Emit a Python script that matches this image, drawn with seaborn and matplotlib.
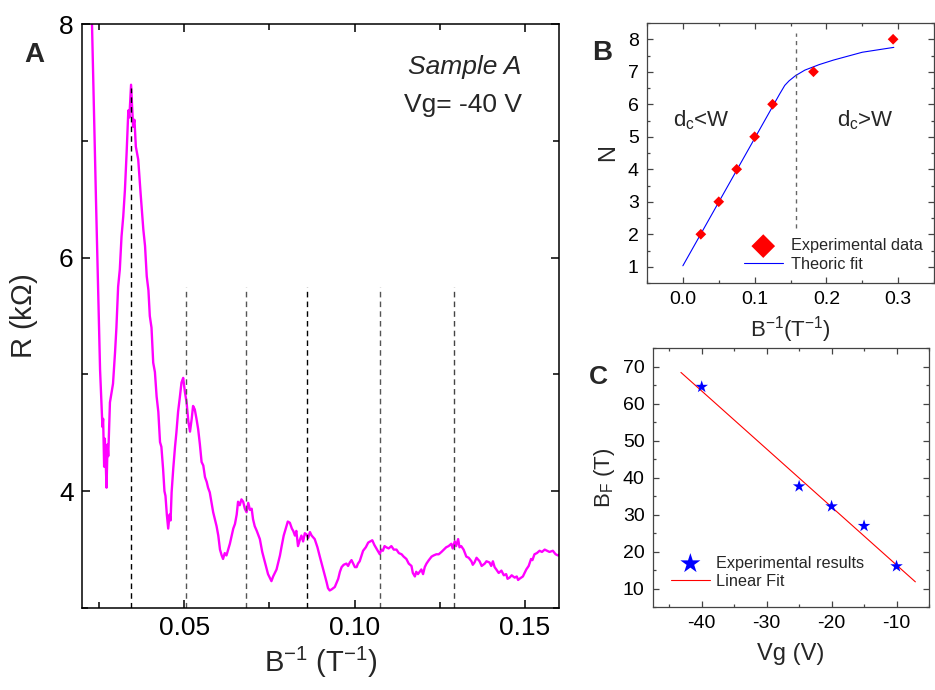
import numpy as np
import pandas as pd
import matplotlib
matplotlib.use("Agg")
import matplotlib.pyplot as plt
import seaborn as sns
from matplotlib.ticker import MultipleLocator

sns.set_theme(style="ticks")
plt.rcParams["font.family"] = ["Liberation Sans", "DejaVu Sans"]
plt.rcParams["mathtext.default"] = "regular"

# ---- panel A : magnetoresistance vs 1/B (sample A, Vg = -40 V)
inv_b = [0.0227, 0.0241, 0.0253, 0.0260, 0.0262, 0.0265, 0.0267, 0.0269, 0.0272, 0.0275,
         0.0277, 0.0282, 0.0287, 0.0291, 0.0297, 0.0301, 0.0306, 0.0311, 0.0316, 0.0321,
         0.0326, 0.0331, 0.0336, 0.0339, 0.0344, 0.0347, 0.0350, 0.0354, 0.0358, 0.0365,
         0.0372, 0.0380, 0.0385, 0.0390, 0.0395, 0.0399, 0.0404, 0.0409, 0.0414, 0.0419,
         0.0424, 0.0429, 0.0433, 0.0438, 0.0442, 0.0445, 0.0449, 0.0453, 0.0457, 0.0460,
         0.0463, 0.0468, 0.0473, 0.0477, 0.0482, 0.0487, 0.0492, 0.0497, 0.0502, 0.0507,
         0.0512, 0.0517, 0.0522, 0.0526, 0.0531, 0.0536, 0.0541, 0.0546, 0.0551, 0.0556,
         0.0561, 0.0566, 0.0570, 0.0575, 0.0585, 0.0595, 0.0600, 0.0605, 0.0610, 0.0614,
         0.0619, 0.0624, 0.0629, 0.0634, 0.0644, 0.0649, 0.0654, 0.0658, 0.0663, 0.0668,
         0.0673, 0.0678, 0.0683, 0.0688, 0.0693, 0.0698, 0.0702, 0.0707, 0.0713, 0.0722,
         0.0729, 0.0737, 0.0746, 0.0751, 0.0756, 0.0761, 0.0771, 0.0781, 0.0786, 0.0792,
         0.0800, 0.0804, 0.0810, 0.0816, 0.0820, 0.0825, 0.0829, 0.0834, 0.0839, 0.0844,
         0.0849, 0.0854, 0.0859, 0.0864, 0.0869, 0.0874, 0.0883, 0.0891, 0.0898, 0.0908,
         0.0918, 0.0922, 0.0927, 0.0933, 0.0942, 0.0952, 0.0957, 0.0962, 0.0968, 0.0976,
         0.0981, 0.0986, 0.0991, 0.0996, 0.1001, 0.1006, 0.1010, 0.1015, 0.1025, 0.1033,
         0.1040, 0.1046, 0.1052, 0.1058, 0.1062, 0.1068, 0.1074, 0.1078, 0.1083, 0.1088,
         0.1093, 0.1100, 0.1108, 0.1115, 0.1123, 0.1130, 0.1138, 0.1144, 0.1152, 0.1159,
         0.1167, 0.1171, 0.1177, 0.1181, 0.1186, 0.1191, 0.1196, 0.1201, 0.1206, 0.1211,
         0.1218, 0.1226, 0.1232, 0.1240, 0.1247, 0.1255, 0.1262, 0.1269, 0.1276, 0.1284,
         0.1288, 0.1294, 0.1298, 0.1304, 0.1308, 0.1313, 0.1320, 0.1328, 0.1335, 0.1343,
         0.1347, 0.1352, 0.1358, 0.1367, 0.1373, 0.1382, 0.1387, 0.1396, 0.1401, 0.1406,
         0.1411, 0.1416, 0.1423, 0.1431, 0.1438, 0.1445, 0.1449, 0.1455, 0.1461, 0.1470,
         0.1476, 0.1480, 0.1484, 0.1494, 0.1504, 0.1511, 0.1518, 0.1522, 0.1528, 0.1535,
         0.1543, 0.1550, 0.1558, 0.1565, 0.1572, 0.1582, 0.1590, 0.1597, 0.1602]
r_kohm = [8.30, 6.50, 5.04, 4.55, 4.62, 4.21, 4.45, 4.30, 4.03, 4.40,
          4.30, 4.76, 4.85, 4.92, 5.19, 5.40, 5.75, 5.90, 6.18, 6.35,
          6.58, 6.90, 7.26, 7.20, 7.48, 7.30, 7.12, 7.18, 6.95, 6.84,
          6.55, 6.24, 6.10, 5.84, 5.72, 5.50, 5.40, 5.10, 5.02, 4.81,
          4.68, 4.42, 4.38, 4.19, 4.00, 3.96, 3.80, 3.68, 3.80, 3.75,
          3.99, 4.20, 4.38, 4.50, 4.68, 4.80, 4.93, 4.97, 4.85, 4.76,
          4.60, 4.51, 4.62, 4.73, 4.70, 4.62, 4.53, 4.40, 4.25, 4.22,
          4.12, 4.08, 4.03, 3.99, 3.82, 3.70, 3.62, 3.50, 3.45, 3.42,
          3.47, 3.45, 3.50, 3.55, 3.68, 3.72, 3.80, 3.91, 3.88, 3.93,
          3.91, 3.85, 3.82, 3.90, 3.84, 3.85, 3.76, 3.70, 3.66, 3.59,
          3.48, 3.39, 3.29, 3.26, 3.23, 3.27, 3.33, 3.45, 3.53, 3.62,
          3.70, 3.74, 3.73, 3.68, 3.66, 3.62, 3.66, 3.53, 3.58, 3.62,
          3.57, 3.64, 3.63, 3.60, 3.65, 3.62, 3.59, 3.52, 3.44, 3.33,
          3.22, 3.17, 3.15, 3.16, 3.18, 3.25, 3.31, 3.35, 3.37, 3.38,
          3.36, 3.39, 3.41, 3.38, 3.35, 3.35, 3.38, 3.40, 3.49, 3.52,
          3.56, 3.57, 3.58, 3.54, 3.52, 3.49, 3.46, 3.50, 3.49, 3.53,
          3.52, 3.51, 3.53, 3.50, 3.50, 3.47, 3.46, 3.44, 3.42, 3.38,
          3.36, 3.30, 3.27, 3.31, 3.29, 3.31, 3.33, 3.29, 3.35, 3.38,
          3.41, 3.44, 3.45, 3.46, 3.46, 3.48, 3.50, 3.52, 3.53, 3.55,
          3.51, 3.57, 3.53, 3.59, 3.52, 3.53, 3.50, 3.44, 3.43, 3.40,
          3.37, 3.39, 3.43, 3.40, 3.36, 3.38, 3.40, 3.39, 3.36, 3.40,
          3.35, 3.33, 3.30, 3.32, 3.28, 3.29, 3.25, 3.26, 3.28, 3.26,
          3.27, 3.24, 3.25, 3.27, 3.33, 3.36, 3.42, 3.41, 3.46, 3.47,
          3.49, 3.48, 3.50, 3.49, 3.48, 3.49, 3.46, 3.45, 3.46]
peak_pos = [0.0344, 0.0505, 0.0681, 0.0860, 0.1074, 0.1291]
peak_top = [7.45, 5.75, 5.75, 5.75, 5.75, 5.75]
peak_col = ["black", "#555555", "#555555", "black", "#555555", "#444444"]

# ---- panel B : Landau level index vs 1/B
lev_inv_b = [0.025, 0.050, 0.075, 0.100, 0.125, 0.182, 0.293]
lev_n = [2, 3, 4, 5, 6, 7, 8]
fit_inv_b = [0.0, 0.135, 0.142, 0.148, 0.157, 0.170, 0.190, 0.210, 0.250, 0.294]
fit_n = [1.03, 6.32, 6.58, 6.72, 6.88, 7.05, 7.22, 7.36, 7.60, 7.75]
crossover = 0.157

# ---- panel C : frequency vs gate voltage
vg = [-40, -25, -20, -15, -10]
bf = [64.5, 37.6, 32.2, 26.9, 16.0]
lin_vg = [-43.2, -7.1]
lin_bf = [68.4, 11.8]

W, H = 935, 690
fig = plt.figure(figsize=(W / 100, H / 100), dpi=100)


def box(l, t, r, b):
    return [l / W, 1 - b / H, (r - l) / W, (b - t) / H]


def style(ax, col, lw, major, minor, size):
    for s in ax.spines.values():
        s.set_color(col)
        s.set_linewidth(lw)
        s.set_visible(True)
    ax.tick_params(which="both", direction="in", top=True, right=True,
                   color=col, width=lw, labelsize=size, colors="black")
    ax.tick_params(which="major", length=major, pad=6)
    ax.tick_params(which="minor", length=minor)
    ax.grid(False)


# panel A
axA = fig.add_axes(box(82, 24, 559, 608))
dfA = pd.DataFrame({"invB": inv_b, "R": r_kohm})
sns.lineplot(data=dfA, x="invB", y="R", ax=axA, color="#FF00FF", lw=1.7,
             estimator=None, sort=False)
axA.vlines(peak_pos, 3, peak_top, colors=peak_col, linestyles=(0, (4, 3)), lw=1)
axA.set_xlim(0.02, 0.16)
axA.set_ylim(3, 8)
axA.xaxis.set_major_locator(MultipleLocator(0.05))
axA.xaxis.set_minor_locator(MultipleLocator(0.025))
axA.yaxis.set_major_locator(MultipleLocator(2))
axA.yaxis.set_minor_locator(MultipleLocator(1))
axA.set_xticks([0.05, 0.10, 0.15], ["0.05", "0.10", "0.15"])
style(axA, "black", 1.1, 6, 4, 19)
axA.set_xlabel(r"B$^{-1}$ (T$^{-1}$)", fontsize=21, labelpad=3)
axA.set_ylabel(r"R (k$\Omega$)", fontsize=21, labelpad=14)
fig.text(465 / W, 1 - 67 / H, "Sample A", fontsize=19, style="italic", ha="center", va="center")
fig.text(463 / W, 1 - 105 / H, "Vg= -40 V", fontsize=19, ha="center", va="center")
fig.text(34 / W, 1 - 55 / H, "A", fontsize=20, weight="bold", ha="center", va="center")

# panel B
axB = fig.add_axes(box(647, 23, 934, 283))
sns.scatterplot(x=lev_inv_b, y=lev_n, ax=axB, marker="D", s=30, color="red",
                edgecolor="none", label="Experimental data", zorder=3)
sns.lineplot(x=fit_inv_b, y=fit_n, ax=axB, color="blue", lw=0.8, label="Theoric fit",
             estimator=None, sort=False)
axB.axvline(crossover, ymin=(2.2 - 0.5) / 8, ymax=(8.2 - 0.5) / 8, color="#666666",
            lw=1, ls=(0, (3, 3)))
axB.set_xlim(-0.05, 0.35)
axB.set_ylim(0.5, 8.5)
axB.xaxis.set_major_locator(MultipleLocator(0.1))
axB.xaxis.set_minor_locator(MultipleLocator(0.05))
axB.yaxis.set_major_locator(MultipleLocator(1))
axB.yaxis.set_minor_locator(MultipleLocator(0.5))
style(axB, "#444444", 0.9, 4, 2.5, 14)
axB.set_xlabel(r"B$^{-1}$(T$^{-1}$)", fontsize=16, labelpad=4)
axB.set_ylabel("N", fontsize=17, labelpad=6)
axB.text(0.026, 5.5, r"d$_c$<W", fontsize=16, ha="center", va="center")
axB.text(0.254, 5.5, r"d$_c$>W", fontsize=16, ha="center", va="center")
axB.legend(loc="lower right", frameon=False, fontsize=11.7, markerscale=2.2,
           handlelength=2.4, handletextpad=0.5, labelspacing=0.2, borderaxespad=0.3)
fig.text(602 / W, 1 - 53 / H, "B", fontsize=20, weight="bold", ha="center", va="center")

# panel C
axC = fig.add_axes(box(653, 348, 929, 607))
sns.scatterplot(x=vg, y=bf, ax=axC, marker="*", s=90, color="blue",
                edgecolor="none", label="Experimental results", zorder=3)
sns.lineplot(x=lin_vg, y=lin_bf, ax=axC, color="red", lw=0.8, label="Linear Fit",
             estimator=None, sort=False)
axC.set_xlim(-47.5, -5)
axC.set_ylim(5, 75)
axC.xaxis.set_major_locator(MultipleLocator(10))
axC.xaxis.set_minor_locator(MultipleLocator(5))
axC.yaxis.set_major_locator(MultipleLocator(10))
axC.yaxis.set_minor_locator(MultipleLocator(5))
style(axC, "#444444", 0.9, 4, 2.5, 14)
axC.set_xticks([-40, -30, -20, -10], ["-40", "-30", "-20", "-10"])
axC.set_xlabel("Vg (V)", fontsize=17, labelpad=8)
axC.set_ylabel(r"B$_F$ (T)", fontsize=16, labelpad=4)
axC.legend(loc="lower left", frameon=False, fontsize=11.7, markerscale=1.6,
           handlelength=2.4, handletextpad=0.4, labelspacing=0.2, borderaxespad=0.7)
fig.text(598 / W, 1 - 377 / H, "C", fontsize=19, weight="bold", ha="center", va="center")

fig.savefig("out.png", dpi=100)
